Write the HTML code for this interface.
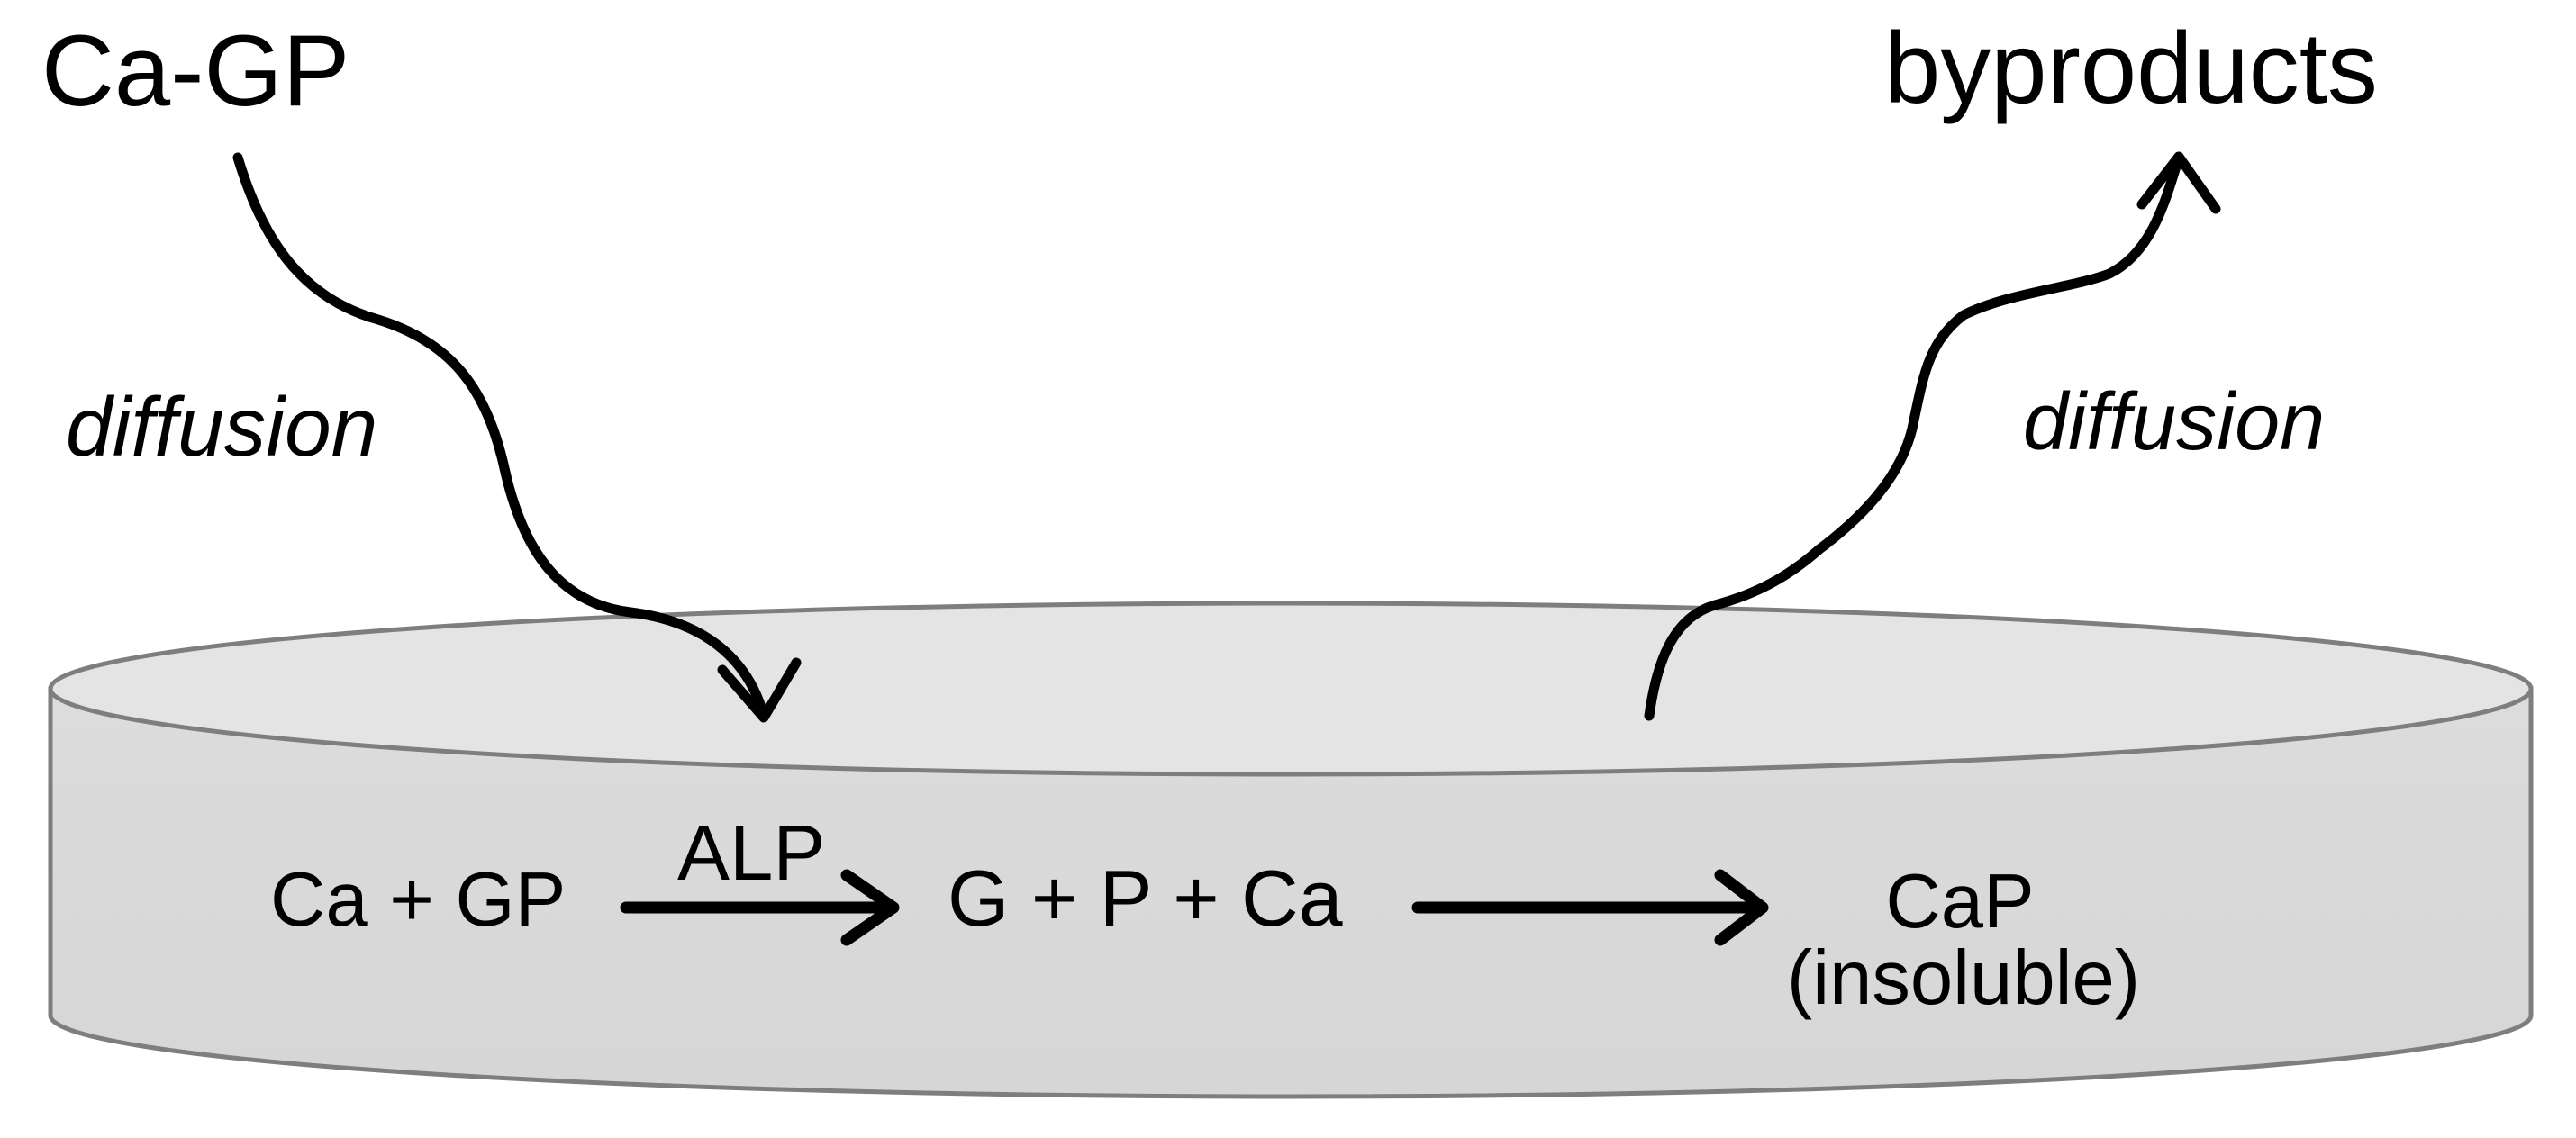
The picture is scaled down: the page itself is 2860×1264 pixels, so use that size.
<!DOCTYPE html>
<html><head><meta charset="utf-8"><style>
html,body{margin:0;padding:0;background:#fff;}
svg{display:block;}
text{font-family:"Liberation Sans",Arial,sans-serif;fill:#000;}
</style></head><body>
<svg width="2860" height="1264" viewBox="0 0 2860 1264" xmlns="http://www.w3.org/2000/svg">
<defs>
<linearGradient id="side" x1="0" y1="0" x2="0" y2="1">
<stop offset="0" stop-color="#dcdcdc"/><stop offset="1" stop-color="#d6d6d6"/>
</linearGradient>
</defs>
<!-- cylinder -->
<path d="M56,765 L56,1128 A1377,90 0 0 0 2810,1128 L2810,765 Z" fill="url(#side)" stroke="#7e7e7e" stroke-width="5"/>
<ellipse cx="1433" cy="765" rx="1377" ry="95" fill="#e4e4e4" stroke="#7e7e7e" stroke-width="5"/>

<!-- labels -->
<text x="46" y="117" font-size="112">Ca-GP</text>
<text x="2092" y="114" font-size="112">byproducts</text>
<text x="73" y="506" font-size="93" font-style="italic">diffusion</text>
<text x="2246" y="499" font-size="90" font-style="italic">diffusion</text>

<!-- wavy arrows -->
<g fill="none" stroke="#000" stroke-width="11" stroke-linecap="round" stroke-linejoin="round">
<path d="M264,175 C290,260 330,330 420,355 C500,380 540,430 560,520 C580,610 620,670 700,680 C780,690 830,730 848,795"/>
<path d="M802,744 L848,797 L884,736"/>
<path d="M1831,795 C1840,730 1860,685 1904,672 C1950,660 1986,640 2020,610 C2068,574 2110,530 2123,476 C2135,420 2140,380 2180,350 C2230,325 2300,320 2342,304 C2390,280 2405,220 2419,175"/>
<path d="M2378,227 L2419,174 L2460,232"/>
</g>

<!-- reaction -->
<text x="300" y="1028" font-size="85">Ca + GP</text>
<text x="752" y="977" font-size="87">ALP</text>
<text x="1052" y="1028" font-size="88">G + P + Ca</text>
<text x="2176" y="1030" font-size="85" text-anchor="middle">CaP</text>
<text x="2180" y="1115" font-size="85" text-anchor="middle">(insoluble)</text>
<g fill="none" stroke="#000" stroke-width="13" stroke-linecap="round" stroke-linejoin="round">
<path d="M695,1008 L988,1008"/>
<path d="M940,972 L992,1008 L940,1044"/>
<path d="M1574,1008 L1955,1008"/>
<path d="M1910,972 L1957,1008 L1910,1044"/>
</g>
</svg>
</body></html>
